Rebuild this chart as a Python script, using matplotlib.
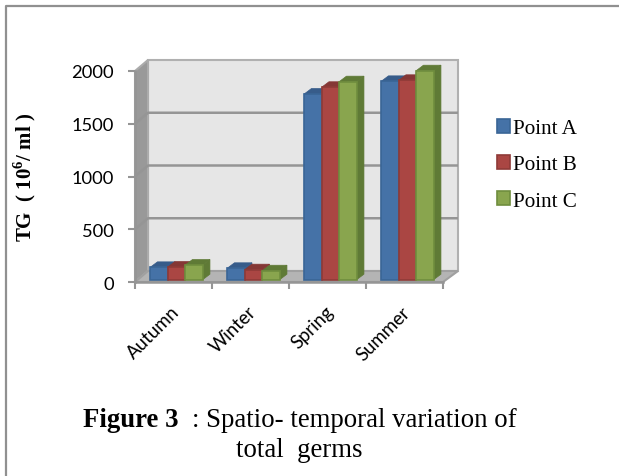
import matplotlib
matplotlib.use('Agg')
import matplotlib.pyplot as plt
from matplotlib.patches import Polygon
from matplotlib.lines import Line2D
import numpy as np

seasons = ['Autumn', 'Winter', 'Spring', 'Summer']
point_a = [117, 108, 1760, 1880]
point_b = [120, 95, 1824, 1890]
point_c = [139, 85, 1877, 1981]
series_names = ['Point A', 'Point B', 'Point C']
y_ticks = [0, 500, 1000, 1500, 2000]

W, H = 619, 477
fig = plt.figure(figsize=(W / 100, H / 100), dpi=100)
ax = fig.add_axes([135 / W, 1 - 283 / H, 308 / W, 211 / H])
ax.set_xlim(0, 4)
ax.set_ylim(0, 2000)
ax.patch.set_visible(False)
for s in ax.spines.values():
    s.set_visible(False)

# pixel sizes converted to data units
px_x = 4 / 308
px_y = 2000 / 211
wall_dx = 13 * px_x
wall_dy = 11 * px_y
right_back = 4 + 15 * px_x
line_col = '#959595'

# walls and floor of the fake 3d box
ax.add_patch(Polygon([(wall_dx, wall_dy), (right_back, wall_dy), (right_back, 2000 + wall_dy), (wall_dx, 2000 + wall_dy)],
                     fc='#e6e6e6', ec='#b0b0b0', lw=1.5, clip_on=False, zorder=1))
ax.add_patch(Polygon([(0, 0), (wall_dx, wall_dy), (wall_dx, 2000 + wall_dy), (0, 2000)],
                     fc='#999999', ec='#ababab', lw=1.5, clip_on=False, zorder=1))
ax.add_patch(Polygon([(0, 0), (wall_dx, wall_dy), (right_back, wall_dy), (4, 0)],
                     fc='#b4b4b4', ec='#a0a0a0', lw=1.5, clip_on=False, zorder=1))

for t in y_ticks[1:-1]:
    ax.plot([0, wall_dx, right_back], [t, t + wall_dy, t + wall_dy], color=line_col, lw=1.8,
            clip_on=False, zorder=2, solid_capstyle='butt')

# bars
bar_w = 17.5 * px_x
shift_x = 2.9 * px_x
base = 2.3 * px_y
depth_x = 7.3 * px_x
depth_y = 5.5 * px_y
x = np.arange(len(seasons)) + 0.5 + shift_x

styles = [('#4572a7', '#3a6596', '#375c8a'),
          ('#aa4643', '#8f3a37', '#853735'),
          ('#89a54e', '#6f8d3e', '#5f7a36')]
handles = []
for j, vals in enumerate([point_a, point_b, point_c]):
    face, edge, dark = styles[j]
    xs = x + (j - 1) * bar_w
    z = 3 + j
    for xc, v in zip(xs, vals):
        x0, x1 = xc - bar_w / 2, xc + bar_w / 2
        top = base + v
        ax.add_patch(Polygon([(x0, top), (x0 + depth_x, top + depth_y), (x1 + depth_x, top + depth_y), (x1, top)],
                             fc=dark, ec=dark, lw=0.5, clip_on=False, zorder=z))
        ax.add_patch(Polygon([(x1, base), (x1 + depth_x, base + depth_y), (x1 + depth_x, top + depth_y), (x1, top)],
                             fc=dark, ec=dark, lw=0.5, clip_on=False, zorder=z))
    bars = ax.bar(xs, vals, bar_w, bottom=base, color=face, edgecolor=edge, lw=1.2, zorder=z + 0.5, clip_on=False)
    handles.append(bars)

# axis lines and ticks
ax.plot([0, 4], [0, 0], color=line_col, lw=1.8, clip_on=False, zorder=2)
ax.plot([0, 0], [0, 2000], color=line_col, lw=1.8, clip_on=False, zorder=2)
ax.set_yticks(y_ticks)
ax.set_xticks(range(5))
ax.set_xticklabels([])
ax.tick_params(axis='both', length=5, width=1.5, color=line_col)
ax.tick_params(axis='y', labelsize=13.2, pad=10)
for lab in ax.get_yticklabels():
    lab.set_family('Lato')

for i, name in enumerate(seasons):
    ax.annotate(name, xy=(i + 0.5, 0), xycoords='data', xytext=(-2, -15), textcoords='offset points',
                rotation=45, ha='right', va='top', rotation_mode='anchor', family='Lato', fontsize=13.4)

plt.rcParams['mathtext.fontset'] = 'custom'
plt.rcParams['mathtext.bf'] = 'Liberation Serif:bold'
plt.rcParams['mathtext.rm'] = 'Liberation Serif'
fig.text(38 / W, 1 - 177 / H, r'TG  ( 10$^{\mathbf{6}}$/ ml )', rotation=90, ha='right', va='center',
         family='Liberation Serif', weight='bold', fontsize=15)

ax.legend(handles, series_names, loc='upper left', bbox_to_anchor=(497 / W, 1 - 120 / H),
          bbox_transform=fig.transFigure, frameon=False, borderpad=0, borderaxespad=0,
          handlelength=0.62, handleheight=0.62, handletextpad=0.14, labelspacing=0.8,
          prop={'family': 'Liberation Serif', 'size': 15.2})

# caption
fig.text(83 / W, 1 - 427 / H, 'Figure 3', family='Liberation Serif', weight='bold', fontsize=19.3, va='baseline')
fig.text(192 / W, 1 - 427 / H, ': Spatio- temporal variation of', family='Liberation Serif', fontsize=19.3, va='baseline')
fig.text(236 / W, 1 - 457 / H, 'total  germs', family='Liberation Serif', fontsize=19.3, va='baseline')

# outer frame, only top and left are visible in the source
fig.add_artist(Line2D([6 / W, 6 / W, 1], [0, 1 - 6.5 / H, 1 - 6.5 / H], color='#909090', lw=1.6))

fig.savefig('out.png', dpi=100)
